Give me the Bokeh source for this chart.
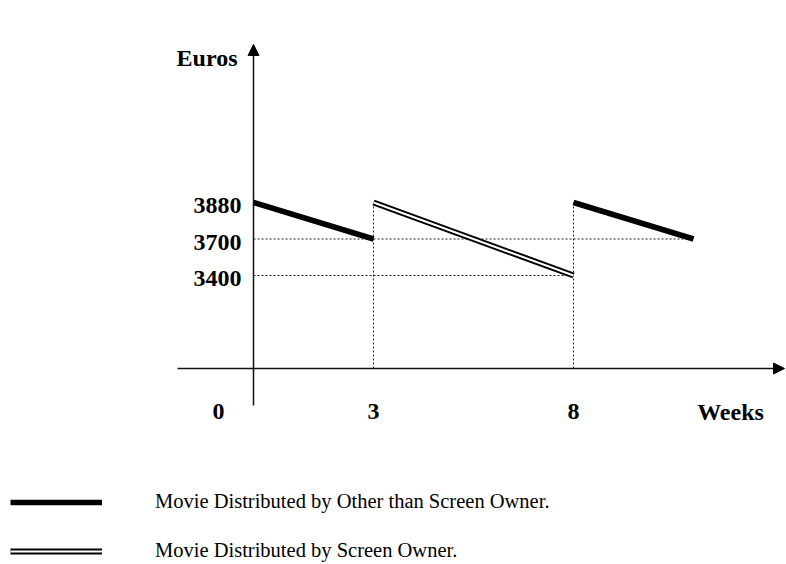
import math
from bokeh.plotting import figure
from bokeh.layouts import column
from bokeh.models import Range1d, FactorRange, Arrow, NormalHead, Legend, LegendItem, ColumnDataSource
from bokeh.core.properties import value
from bokeh.embed import file_html
from bokeh.resources import INLINE

# ---------------- data ----------------
weeks_other_1 = [0, 3]
euros_other_1 = [3880, 3700]
weeks_owner = [3, 8]
euros_owner = [3880, 3400]
weeks_other_2 = [8, 11]
euros_other_2 = [3880, 3700]

y_tick_values = [3880, 3700, 3400]
x_tick_values = [0, 3, 8]
x_tick_labels = ["0", "3", "8"]
x_title = "Weeks"
y_title = "Euros"
legend_labels = ["Movie Distributed by Other than Screen Owner.",
                 "Movie Distributed by Screen Owner."]

# ---------------- layout (schematic: evenly spaced euro levels) ----------------
W, H = 786, 564
FRAME_H = 477
LEG_H = H - FRAME_H
X_PX_PER_WEEK = 40.0
X_ORIGIN_PX = 253
LEVEL_PX = 36.5
N_LEVELS = len(y_tick_values)
PAD = (FRAME_H / LEVEL_PX - N_LEVELS) / 2     # absolute padding per side (synthetic units)
TOP_SYN = N_LEVELS + PAD


def px_to_x(px):
    return (px - X_ORIGIN_PX) / X_PX_PER_WEEK


def py_to_syn(py):
    return TOP_SYN - py / LEVEL_PX


def lv(vals):
    return [str(v) for v in vals]


BASE_Y = py_to_syn(368)
SERIF = "Liberation Serif"


def bare(fig):
    fig.xgrid.visible = False
    fig.ygrid.visible = False
    fig.outline_line_color = None
    fig.background_fill_color = "white"
    fig.border_fill_color = "white"


levels = lv(sorted(y_tick_values))
p = figure(width=W, height=FRAME_H,
           x_range=Range1d(px_to_x(0), px_to_x(W)),
           y_range=FactorRange(factors=levels, range_padding=PAD, range_padding_units="absolute"),
           output_backend="svg", toolbar_location=None, min_border=0,
           x_axis_location=None, y_axis_location=None)
bare(p)

DOT = dict(line_color="#222222", line_width=1, line_dash="2 2")
# dotted reference lines (derived from the data)
p.segment(x0=[0, 0], y0=lv([euros_other_2[1], euros_owner[1]]),
          x1=[weeks_other_2[1], weeks_owner[1]], y1=lv([euros_other_2[1], euros_owner[1]]), **DOT)
p.segment(x0=[weeks_owner[0], weeks_owner[1]], y0=[BASE_Y, BASE_Y],
          x1=[weeks_owner[0], weeks_owner[1]], y1=lv([euros_owner[0], euros_other_2[0]]), **DOT)

# axes as arrows
HEAD = dict(size=11, fill_color="black", line_color="black")
p.add_layout(Arrow(x_start=px_to_x(177), y_start=BASE_Y, x_end=px_to_x(784), y_end=BASE_Y,
                   line_color="#111111", line_width=1.5, end=NormalHead(**HEAD)))
p.add_layout(Arrow(x_start=0, y_start=py_to_syn(405), x_end=0, y_end=py_to_syn(44),
                   line_color="#111111", line_width=1.5, end=NormalHead(**HEAD)))

OTHER_STYLE = dict(line_color="black", line_width=5.5, line_cap="butt")
OWNER_B = dict(line_color="black", line_width=6, line_cap="butt")
OWNER_W = dict(line_color="white", line_width=2, line_cap="butt")

# series
p.multi_line(xs=[weeks_other_1, weeks_other_2], ys=[lv(euros_other_1), lv(euros_other_2)], **OTHER_STYLE)
p.line(weeks_owner, lv(euros_owner), **OWNER_B)
p.line(weeks_owner, lv(euros_owner), **OWNER_W)

BOLD = dict(text_font=value(SERIF), text_font_style="bold", text_font_size="24px", text_color="black")
# tick labels
p.text(x=[px_to_x(241)] * len(y_tick_values), y=lv(y_tick_values), text=lv(y_tick_values),
       text_align="right", text_baseline="middle", y_offset=3, **BOLD)
xsrc = ColumnDataSource(dict(x=x_tick_values, y=[py_to_syn(411)] * len(x_tick_values),
                             t=x_tick_labels, dx=[-35, 0, 0]))
p.text(x="x", y="y", text="t", x_offset="dx", source=xsrc,
       text_align="center", text_baseline="middle", **BOLD)

# axis titles
p.text(x=[px_to_x(237)], y=[py_to_syn(57)], text=[y_title], text_align="right",
       text_baseline="middle", **BOLD)
p.text(x=[px_to_x(730)], y=[py_to_syn(411)], text=[x_title], text_align="center",
       text_baseline="middle", **BOLD)

# ---------------- legend strip (proxy renderers hold no visible data) ----------------
q = figure(width=W, height=LEG_H, x_range=Range1d(0, 1), y_range=Range1d(0, 1),
           output_backend="svg", toolbar_location=None, min_border=0,
           x_axis_location=None, y_axis_location=None)
bare(q)
NONE = [math.nan, math.nan]
l_other = q.line(NONE, NONE, **OTHER_STYLE)
l_owner_b = q.line(NONE, NONE, **OWNER_B)
l_owner_w = q.line(NONE, NONE, **OWNER_W)
legend = Legend(items=[LegendItem(label=legend_labels[0], renderers=[l_other]),
                       LegendItem(label=legend_labels[1], renderers=[l_owner_b, l_owner_w])],
                location=(10, 2), glyph_width=92, glyph_height=20, spacing=26,
                padding=0, margin=0, label_standoff=53, label_text_font=SERIF,
                label_text_font_size="20.5px", label_text_color="black",
                border_line_color=None, background_fill_alpha=0)
q.add_layout(legend)

layout = column(p, q, spacing=0)
open("out.html", "w").write(file_html(layout, INLINE))
